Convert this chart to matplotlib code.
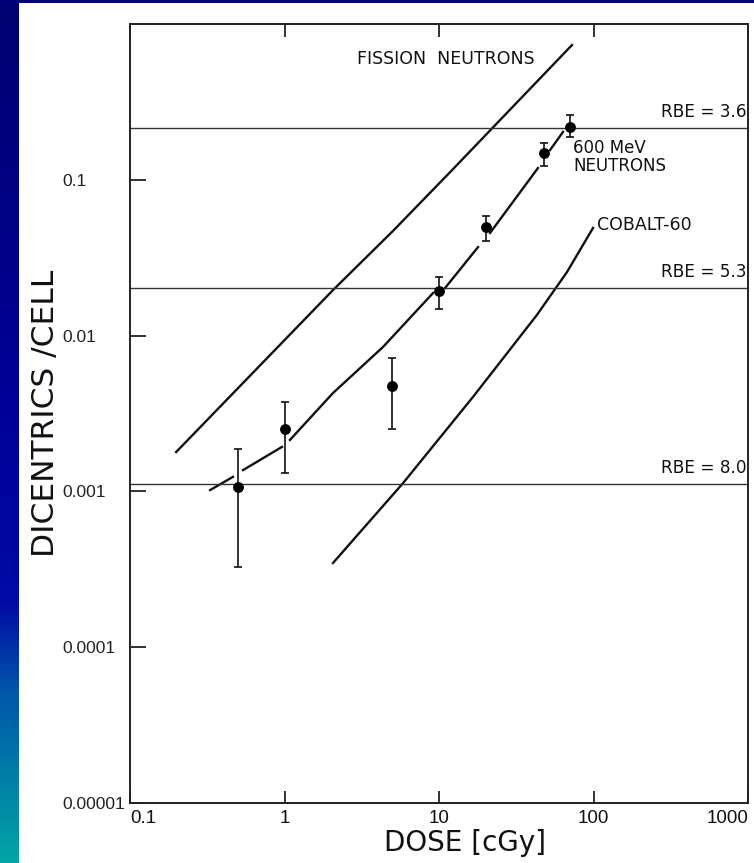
import numpy as np
import matplotlib
matplotlib.use("Agg")
import matplotlib.pyplot as plt
from matplotlib.colors import LinearSegmentedColormap
from matplotlib.ticker import NullLocator

nan = np.nan

# ---- data ----
fission_dose = [0.199, 2.06, 5.04, 11.8, 72.6]
fission_dic = [0.00179, 0.0196, 0.0470, 0.112, 0.733]

neutron_curve_dose = [0.330, 0.464, nan, 0.539, 0.963, nan, 1.085, 2.06, 4.34, 9.15,
                      nan, 10.94, 17.9, nan, 21.4, 43.7, nan, 52.3, 63.5]
neutron_curve_dic = [0.00102, 0.00124, nan, 0.00137, 0.00193, nan, 0.00214, 0.00428,
                     0.00845, 0.01876, nan, 0.0202, 0.0370, nan, 0.0456, 0.119, nan,
                     0.155, 0.203]

cobalt_dose = [2.06, 5.85, 16.6, 43.0, 67.4, 99.3]
cobalt_dic = [0.000347, 0.00113, 0.00404, 0.01356, 0.0256, 0.0491]

neutron_dose = [0.5, 1, 5, 10, 20, 48, 70]
neutron_dic = [0.00107, 0.00252, 0.00477, 0.0193, 0.0500, 0.149, 0.218]
neutron_hi = [0.00187, 0.00376, 0.00718, 0.0239, 0.0586, 0.172, 0.261]
neutron_lo = [0.000327, 0.00131, 0.00251, 0.0148, 0.0407, 0.1227, 0.188]

rbe_levels = [0.215, 0.0202, 0.00112]
rbe_labels = ["RBE = 3.6", "RBE = 5.3", "RBE = 8.0"]

x_ticks = [0.1, 1, 10, 100, 1000]
x_ticklabels = ["0.1", "1", "10", "100", "1000"]
y_ticks = [1e-1, 1e-2, 1e-3, 1e-4, 1e-5]
y_ticklabels = ["0.1", "0.01", "0.001", "0.0001", "0.00001"]

# ---- figure ----
W, H = 754, 863
fig = plt.figure(figsize=(W / 100, H / 100), dpi=100)
fig.patch.set_facecolor("white")

# slide background: gradient band on the left, navy band on top
bg = fig.add_axes([0, 0, 19 / W, 1])
bg.set_axis_off()
cmap = LinearSegmentedColormap.from_list(
    "slide",
    [(0.0, (0 / 255, 0 / 255, 112 / 255)),
     (0.45, (0 / 255, 0 / 255, 150 / 255)),
     (0.70, (0 / 255, 10 / 255, 165 / 255)),
     (0.80, (0 / 255, 85 / 255, 170 / 255)),
     (1.0, (0 / 255, 165 / 255, 165 / 255))])
grad = np.linspace(0, 1, 256).reshape(-1, 1)
bg.imshow(grad, aspect="auto", cmap=cmap, extent=[0, 1, 1, 0])
bg.set_xlim(0, 1)
bg.set_ylim(1, 0)
top = fig.add_axes([0, 1 - 3.5 / H, 1, 3.5 / H])
top.set_axis_off()
top.add_patch(plt.Rectangle((0, 0), 1, 1, color="#000078", transform=top.transAxes))

ax = fig.add_axes([130 / W, 60 / H, 618 / W, 779 / H])
ax.set_xscale("log")
ax.set_yscale("log")
ax.set_xlim(0.1, 1000)
ax.set_ylim(1e-5, 1)

lc = "#111111"
ax.plot(fission_dose, fission_dic, color=lc, lw=1.7)
ax.plot(neutron_curve_dose, neutron_curve_dic, color=lc, lw=1.7)
ax.plot(cobalt_dose, cobalt_dic, color=lc, lw=1.7)

nd = np.array(neutron_dic)
yerr = [nd - np.array(neutron_lo), np.array(neutron_hi) - nd]
ax.errorbar(neutron_dose, neutron_dic, yerr=yerr, fmt="o", ms=6.8, color="black",
            ecolor=lc, elinewidth=1.2, capsize=3, capthick=1.2)

for lvl, lab in zip(rbe_levels, rbe_labels):
    ax.axhline(lvl, color="#333333", lw=1.0)
    ax.annotate(lab, xy=(0.997, lvl), xycoords=ax.get_yaxis_transform(),
                xytext=(0, 5), textcoords="offset points",
                ha="right", va="bottom", fontsize=12.2, family="DejaVu Sans",
                color="#111111")

ax.text((357 - 130) / 618, (803 - 64) / 779, "FISSION  NEUTRONS", transform=ax.transAxes,
        ha="left", va="baseline", fontsize=12.5, family="DejaVu Sans", color="#111111")
ax.text((573 - 130) / 618, (803 - 139) / 779, "600 MeV\nNEUTRONS", transform=ax.transAxes,
        ha="left", va="top", fontsize=12, linespacing=1.0, family="DejaVu Sans",
        color="#111111")
ax.text((597 - 130) / 618, (803 - 230) / 779, "COBALT-60", transform=ax.transAxes,
        ha="left", va="baseline", fontsize=12.5, family="DejaVu Sans", color="#111111")

# axes styling
for s in ax.spines.values():
    s.set_color("#222222")
    s.set_linewidth(1.4)

ax.xaxis.set_minor_locator(NullLocator())
ax.yaxis.set_minor_locator(NullLocator())
ax.set_xticks(x_ticks)
ax.set_xticklabels(x_ticklabels, family=["Liberation Sans", "DejaVu Sans"],
                   fontsize=13.5, color="#111111")
ax.set_yticks(y_ticks)
ax.set_yticklabels(y_ticklabels, family=["Liberation Sans", "DejaVu Sans"],
                   fontsize=12.5, color="#222222")
ax.tick_params(axis="x", direction="in", length=9, width=1.3, top=True, pad=5,
               color="#222222")
ax.tick_params(axis="y", direction="in", length=11.5, width=1.3, right=False, pad=49,
               color="#222222")
xl = ax.get_xticklabels()
xl[0].set_horizontalalignment("left")
xl[-1].set_horizontalalignment("right")
for lab in ax.get_yticklabels():
    lab.set_horizontalalignment("left")

ax.set_xlabel("DOSE [cGy]", fontsize=20, family="DejaVu Sans", color="#111111")
ax.xaxis.set_label_coords((465 - 130) / 618, (803 - 829) / 779)
ax.set_ylabel("DICENTRICS /CELL", fontsize=22.5, family="DejaVu Sans", color="#111111")
ax.yaxis.set_label_coords((60 - 130) / 618, (803 - 413) / 779)

fig.savefig("out.png", dpi=100, facecolor=fig.get_facecolor())
